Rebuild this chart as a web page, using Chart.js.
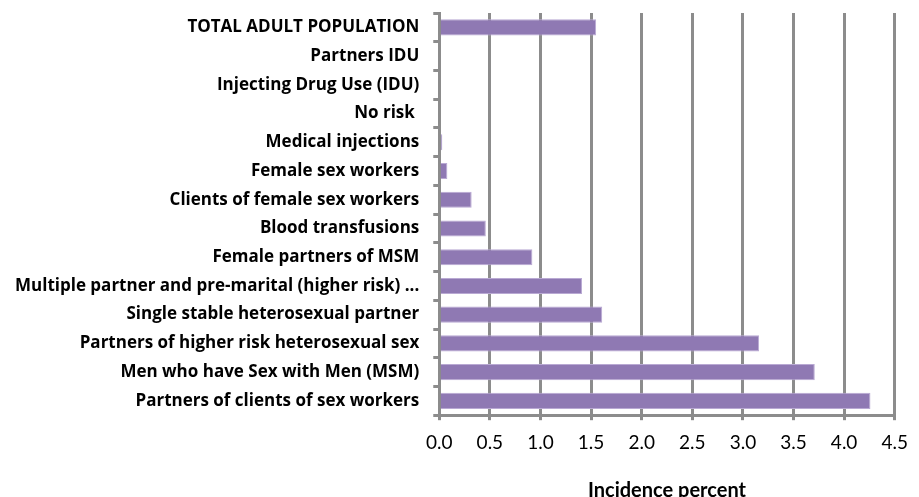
<!DOCTYPE html>
<html>
<head>
<meta charset="utf-8">
<script src="https://cdn.jsdelivr.net/npm/chart.js@4/dist/chart.umd.min.js"></script>
<style>
  body { margin: 0; background: #fff; }
  #wrap { width: 919px; height: 497px; }
</style>
</head>
<body>
<div id="wrap"><canvas id="chart" width="919" height="497"></canvas></div>
<script>
// categories, top to bottom
const groups = [
  'TOTAL ADULT POPULATION',
  'Partners IDU',
  'Injecting Drug Use (IDU)',
  'No risk ',
  'Medical injections',
  'Female sex workers',
  'Clients of female sex workers',
  'Blood transfusions',
  'Female partners of MSM',
  'Multiple partner and pre-marital (higher risk) ...',
  'Single stable heterosexual partner',
  'Partners of higher risk heterosexual sex',
  'Men who have Sex with Men (MSM)',
  'Partners of clients of sex workers'
];
// incidence percent
const incidence = [1.55, 0, 0, 0, 0.03, 0.08, 0.32, 0.46, 0.92, 1.41, 1.61, 3.16, 3.71, 4.26];

const xMin = 0, xMax = 4.5, xStep = 0.5;
const xTitle = 'Incidence percent';

const gridGrey = '#8c8c8c';
const barPurple = '#8f79b3';

new Chart(document.getElementById('chart'), {
  type: 'bar',
  data: {
    labels: groups,
    datasets: [{
      data: incidence,
      backgroundColor: barPurple,
      borderColor: '#b9a9d3',
      borderWidth: 1,
      barPercentage: 0.56,
      categoryPercentage: 1
    }]
  },
  options: {
    indexAxis: 'y',
    responsive: false,
    animation: false,
    layout: { padding: { left: 1, right: 4, top: 13, bottom: -6 } },
    plugins: { legend: { display: false }, tooltip: { enabled: false } },
    scales: {
      x: {
        min: xMin,
        max: xMax,
        ticks: {
          stepSize: xStep,
          color: '#000',
          padding: 11,
          font: { family: 'Lato', size: 19 },
          callback: v => Number(v).toFixed(1)
        },
        grid: { color: gridGrey, lineWidth: 3, tickLength: 5 },
        border: { color: gridGrey, width: 3 },
        title: {
          display: true,
          text: xTitle,
          color: '#000',
          padding: { top: 14, bottom: 0 },
          font: { family: 'Lato', size: 20, weight: 'bold' }
        }
      },
      y: {
        afterFit: s => { s.paddingTop = 0; s.paddingBottom = 0; },
        ticks: {
          color: '#000',
          padding: 14,
          autoSkip: false,
          font: { family: 'Open Sans', size: 17, weight: 'bold' }
        },
        grid: { drawOnChartArea: false, color: gridGrey, lineWidth: 3, tickLength: 6 },
        border: { color: gridGrey, width: 3 }
      }
    }
  }
});
</script>
</body>
</html>
